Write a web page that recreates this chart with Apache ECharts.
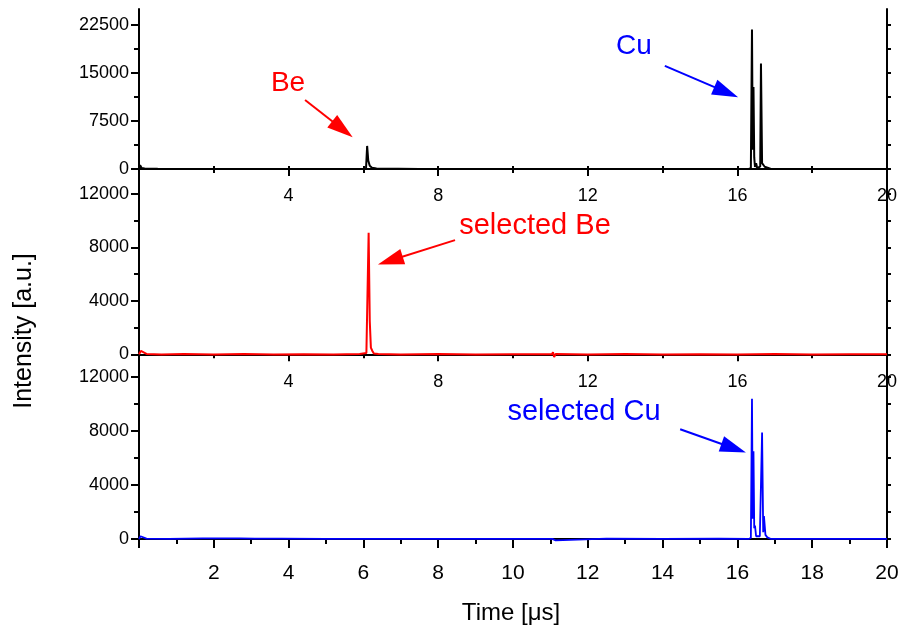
<!DOCTYPE html>
<html>
<head>
<meta charset="utf-8">
<script src="https://cdn.jsdelivr.net/npm/echarts@6/dist/echarts.min.js"></script>
<style>
  html, body { margin: 0; padding: 0; background: #fff; }
  #chart { width: 902px; height: 635px; }
</style>
</head>
<body>
<div id="chart"></div>
<script>
// Full spectrum (black)
const timeAll = [0, 0.03, 0.07, 0.15, 0.5, 1.5, 3, 4.5, 6.0, 6.07, 6.1, 6.13, 6.17, 6.23, 6.35, 7.5, 9, 11.05, 11.1, 11.14, 13, 15, 16.3, 16.36, 16.39, 16.41, 16.43, 16.45, 16.47, 16.5, 16.53, 16.57, 16.61, 16.63, 16.66, 16.69, 16.73, 16.78, 16.9, 18, 20];
const intensityAll = [0, 600, 150, 60, 20, 0, 10, 0, 0, 50, 3600, 1300, 500, 200, 60, 0, 0, 0, 150, 0, 0, 0, 0, 100, 21800, 3000, 12800, 1800, 300, 900, 100, 300, 400, 16500, 900, 700, 350, 100, 0, 0, 0];

// Selected Be (red)
const timeBe = [0, 0.05, 0.1, 0.2, 0.6, 1.2, 2, 2.8, 3.6, 4.4, 5.2, 5.9, 6.08, 6.14, 6.17, 6.2, 6.24, 6.28, 6.4, 7, 8, 9, 10, 11.04, 11.07, 11.1, 11.14, 12, 13, 14, 15, 16, 17, 18, 19, 20];
const intensityBe = [0, 250, 120, 30, -20, 20, -10, 30, -20, 10, -20, 20, 100, 9100, 2500, 500, 250, 60, 20, -10, 20, -20, 10, 0, 150, -200, 20, -10, 20, -20, 10, -10, 20, -20, 10, 0];

// Selected Cu (blue)
const timeCu = [0, 0.04, 0.08, 0.2, 0.8, 1.7, 2.7, 3.1, 3.8, 5, 6.2, 8, 9.5, 11.05, 11.1, 11.14, 12.5, 14, 15.5, 16.3, 16.36, 16.39, 16.41, 16.43, 16.45, 16.47, 16.5, 16.54, 16.6, 16.63, 16.66, 16.69, 16.71, 16.75, 16.8, 16.9, 17.5, 18.5, 20];
const intensityCu = [0, 200, 80, 20, 0, 40, 40, 30, 30, 0, 0, 10, 0, 0, 120, -100, 20, 0, 30, 0, 80, 10400, 1500, 6500, 800, 1000, 200, 100, 200, 300, 7900, 500, 1700, 300, 120, 0, 0, 10, 0];

// Tick values for each panel
const ticksTop = [0, 7500, 15000, 22500];
const minorTop = [3750, 11250, 18750];
const ticksSel = [0, 4000, 8000, 12000];
const minorSel = [2000, 6000, 10000];

const zip = (xs, ys) => xs.map((x, i) => [x, ys[i]]);

const FONT = 'Arial, "Liberation Sans", sans-serif';
const AX = { lineStyle: { color: '#000', width: 2 } };
const plain = v => String(v);

const panels = [
  { top: 9, height: 167, min: -1100, max: 25000, ticks: ticksTop, minor: minorTop, rightStep: 3750 },
  { top: 176, height: 183, min: -350, max: 13350, ticks: ticksSel, minor: minorSel, rightStep: 2000 },
  { top: 359, height: 184, min: -300, max: 13350, ticks: ticksSel, minor: minorSel, rightStep: 2000 }
];

function stepValues(step, max) {
  const out = [];
  for (let v = 0; v <= max; v += step) out.push(v);
  return out;
}

const grids = panels.map(p => ({ left: 139, right: 15, top: p.top, height: p.height }));

const xAxes = [
  {
    gridIndex: 0, type: 'value', min: 0, max: 20, interval: 4, position: 'bottom',
    axisLine: AX, axisTick: { length: 7, lineStyle: { width: 2, color: '#000' } },
    minorTick: { show: true, splitNumber: 2, length: 4, lineStyle: { width: 2, color: '#000' } },
    axisLabel: { showMinLabel: false, margin: 11, fontSize: 18, color: '#000', fontFamily: FONT, formatter: plain },
    splitLine: { show: false }
  },
  {
    gridIndex: 1, type: 'value', min: 0, max: 20, interval: 4, position: 'bottom',
    axisLine: AX, axisTick: { length: 7, lineStyle: { width: 2, color: '#000' } },
    minorTick: { show: true, splitNumber: 2, length: 4, lineStyle: { width: 2, color: '#000' } },
    axisLabel: { showMinLabel: false, margin: 14, fontSize: 18, color: '#000', fontFamily: FONT, formatter: plain },
    splitLine: { show: false }
  },
  {
    gridIndex: 2, type: 'value', min: 0, max: 20, interval: 2, position: 'bottom',
    axisLine: AX, axisTick: { length: 9, lineStyle: { width: 2, color: '#000' } },
    minorTick: { show: true, splitNumber: 2, length: 5, lineStyle: { width: 2, color: '#000' } },
    axisLabel: { showMinLabel: false, margin: 20, fontSize: 21, color: '#000', fontFamily: FONT, formatter: plain },
    splitLine: { show: false }
  },
  {
    gridIndex: 0, type: 'value', min: 0, max: 20, interval: 2, position: 'top',
    axisLine: AX, axisTick: { length: 3, lineStyle: { width: 2, color: '#000' } },
    axisLabel: { show: false }, splitLine: { show: false }
  }
];

const yAxes = [];
panels.forEach((p, i) => {
  yAxes.push({
    gridIndex: i, type: 'value', min: p.min, max: p.max, position: 'left',
    axisLine: AX,
    axisTick: { customValues: p.ticks, length: 8, lineStyle: { width: 2, color: '#000' } },
    axisLabel: { customValues: p.ticks, margin: 10, fontSize: 18, color: '#000', fontFamily: FONT, formatter: plain },
    splitLine: { show: false }
  });
});
panels.forEach((p, i) => {
  yAxes.push({
    gridIndex: i, type: 'value', min: p.min, max: p.max, position: 'left',
    axisLine: { show: false },
    axisTick: { customValues: p.minor, length: 5, lineStyle: { width: 2, color: '#000' } },
    axisLabel: { show: false }, splitLine: { show: false }
  });
});
panels.forEach((p, i) => {
  yAxes.push({
    gridIndex: i, type: 'value', min: p.min, max: p.max, position: 'right',
    axisLine: AX,
    axisTick: { customValues: stepValues(p.rightStep, p.max), length: 4, lineStyle: { width: 2, color: '#000' } },
    axisLabel: { show: false }, splitLine: { show: false }
  });
});

// Arrow: the end coordinate is the centre of the triangular head
const arrowStyle = (color) => ({
  symbol: ['none', 'triangle'],
  symbolSize: [16, 26],
  silent: true,
  label: { show: false },
  lineStyle: { color: color, width: 2, type: 'solid' },
  itemStyle: { color: color },
  animation: false
});

const series = [
  {
    type: 'line', xAxisIndex: 0, yAxisIndex: 0, data: zip(timeAll, intensityAll),
    showSymbol: false, lineStyle: { color: '#000', width: 2 },
    markLine: Object.assign(arrowStyle('#ff0000'), {
      data: [[{ coord: [4.44, 10780] }, { coord: [5.44, 6200] }]]
    })
  },
  {
    type: 'line', xAxisIndex: 0, yAxisIndex: 0, data: [],
    markLine: Object.assign(arrowStyle('#0000ff'), {
      data: [[{ coord: [14.06, 16100] }, { coord: [15.70, 12000] }]]
    })
  },
  {
    type: 'line', xAxisIndex: 1, yAxisIndex: 1, data: zip(timeBe, intensityBe),
    showSymbol: false, lineStyle: { color: '#ff0000', width: 2 },
    markLine: Object.assign(arrowStyle('#ff0000'), {
      data: [[{ coord: [8.45, 8550] }, { coord: [6.72, 7020] }]]
    })
  },
  {
    type: 'line', xAxisIndex: 2, yAxisIndex: 2, data: zip(timeCu, intensityCu),
    showSymbol: false, lineStyle: { color: '#0000ff', width: 1.8 },
    markLine: Object.assign(arrowStyle('#0000ff'), {
      data: [[{ coord: [14.47, 8140] }, { coord: [15.90, 6730] }]]
    })
  }
];

const txt = (x, y, text, color, size, extra) => Object.assign({
  type: 'text', x: x, y: y,
  style: { text: text, fill: color, font: size + 'px ' + FONT, align: 'center', verticalAlign: 'middle' }
}, extra || {});

const chart = echarts.init(document.getElementById('chart'), null, { renderer: 'canvas' });
chart.setOption({
  animation: false,
  backgroundColor: '#fff',
  grid: grids,
  xAxis: xAxes,
  yAxis: yAxes,
  series: series,
  graphic: [
    txt(288, 83, 'Be', '#ff0000', 28),
    txt(634, 46, 'Cu', '#0000ff', 28),
    txt(535, 226, 'selected Be', '#ff0000', 29),
    txt(584, 412, 'selected Cu', '#0000ff', 29),
    txt(511, 613, 'Time [\u03bcs]', '#000', 24),
    txt(24, 331, 'Intensity [a.u.]', '#000', 25, { rotation: Math.PI / 2 })
  ]
});
</script>
</body>
</html>
